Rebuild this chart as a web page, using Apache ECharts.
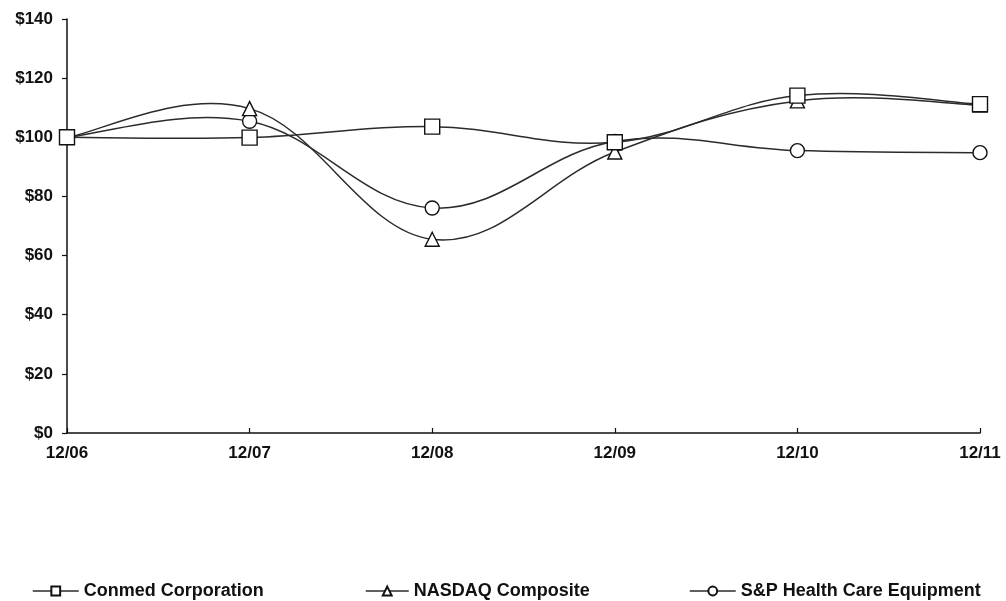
<!DOCTYPE html>
<html>
<head>
<meta charset="utf-8">
<script src="https://cdn.jsdelivr.net/npm/echarts@6/dist/echarts.min.js"></script>
<style>
html,body{margin:0;padding:0;background:#fff;}
#chart{width:1006px;height:601px;}
</style>
</head>
<body>
<div id="chart"></div>
<script>
const categories = ['12/06', '12/07', '12/08', '12/09', '12/10', '12/11'];
const conmed = [100, 99.9, 103.6, 98.3, 114.1, 111.2];
const nasdaq = [100, 109.7, 65.5, 95.0, 112.3, 110.9];
const spHealth = [100, 105.4, 76.1, 98.6, 95.5, 94.8];
const seriesNames = ['Conmed Corporation', 'NASDAQ Composite', 'S&P Health Care Equipment'];
const yTicks = { min: 0, max: 140, interval: 20 };

const FONT = '"Liberation Sans", Arial, sans-serif';
const lineColor = '#2b2b2b';

// markers only (line hidden; curve drawn by custom series below)
function mkMarkers(name, data, symbol, size) {
  return {
    name: name,
    type: 'line',
    data: data,
    symbol: symbol,
    symbolSize: size,
    showAllSymbol: true,
    lineStyle: { color: lineColor, width: 1.5, opacity: 0 },
    itemStyle: { color: '#ffffff', borderColor: '#111', borderWidth: 1.4 },
    emphasis: { disabled: true },
    z: 5,
    animation: false
  };
}

// Excel-like smoothed curve (Catmull-Rom bezier through data points via axis coords)
function mkCurve(name, data) {
  const n = data.length;
  return {
    name: name + ' curve',
    type: 'custom',
    data: data.map((v, i) => [i, v]),
    silent: true,
    z: 2,
    animation: false,
    renderItem: function (params, api) {
      const i = params.dataIndex;
      if (i >= n - 1) return null;
      const P = k => {
        const j = Math.max(0, Math.min(n - 1, k));
        return api.coord([j, data[j]]);
      };
      const p0 = P(i - 1), p1 = P(i), p2 = P(i + 1), p3 = P(i + 2);
      const t = 0.19;
      return {
        type: 'bezierCurve',
        shape: {
          x1: p1[0], y1: p1[1], x2: p2[0], y2: p2[1],
          cpx1: p1[0] + (p2[0] - p0[0]) * t, cpy1: p1[1] + (p2[1] - p0[1]) * t,
          cpx2: p2[0] - (p3[0] - p1[0]) * t, cpy2: p2[1] - (p3[1] - p1[1]) * t
        },
        style: { stroke: lineColor, lineWidth: 1.5, fill: null }
      };
    }
  };
}

function mkLegend(name, left, w) {
  return {
    data: [name],
    left: left,
    top: 582,
    padding: 0,
    itemWidth: w,
    itemHeight: 11,
    itemGap: 5,
    lineStyle: { color: lineColor, width: 1.5, opacity: 1 },
    textStyle: { fontFamily: FONT, fontSize: 18, fontWeight: 'bold', color: '#111', padding: [0, 0, 0, 0] },
    selectedMode: false
  };
}

const chart = echarts.init(document.getElementById('chart'), null, { renderer: 'canvas' });
chart.setOption({
  backgroundColor: '#ffffff',
  animation: false,
  grid: { left: 67, right: 26, top: 19, bottom: 168 },
  legend: [
    mkLegend(seriesNames[0], 32, 46),
    mkLegend(seriesNames[1], 365, 43),
    mkLegend(seriesNames[2], 689, 46)
  ],
  xAxis: {
    type: 'category',
    data: categories,
    boundaryGap: false,
    axisLine: { lineStyle: { color: '#111', width: 1.5 } },
    axisTick: { inside: true, length: 5, lineStyle: { color: '#111', width: 1.2 } },
    axisLabel: { margin: 12, fontFamily: FONT, fontSize: 17, fontWeight: 'bold', color: '#111' },
    splitLine: { show: false }
  },
  yAxis: {
    type: 'value',
    min: yTicks.min,
    max: yTicks.max,
    interval: yTicks.interval,
    axisLine: { show: true, lineStyle: { color: '#111', width: 1.5 } },
    axisTick: { show: true, inside: false, length: 5, lineStyle: { color: '#111', width: 1.2 } },
    axisLabel: { margin: 14, fontFamily: FONT, fontSize: 17, fontWeight: 'bold', color: '#111',
      formatter: v => '$' + v },
    splitLine: { show: false }
  },
  series: [
    mkCurve(seriesNames[2], spHealth),
    mkCurve(seriesNames[1], nasdaq),
    mkCurve(seriesNames[0], conmed),
    mkMarkers(seriesNames[2], spHealth, 'circle', 14),
    mkMarkers(seriesNames[1], nasdaq, 'triangle', 14),
    mkMarkers(seriesNames[0], conmed, 'rect', 15)
  ]
});
</script>
</body>
</html>
